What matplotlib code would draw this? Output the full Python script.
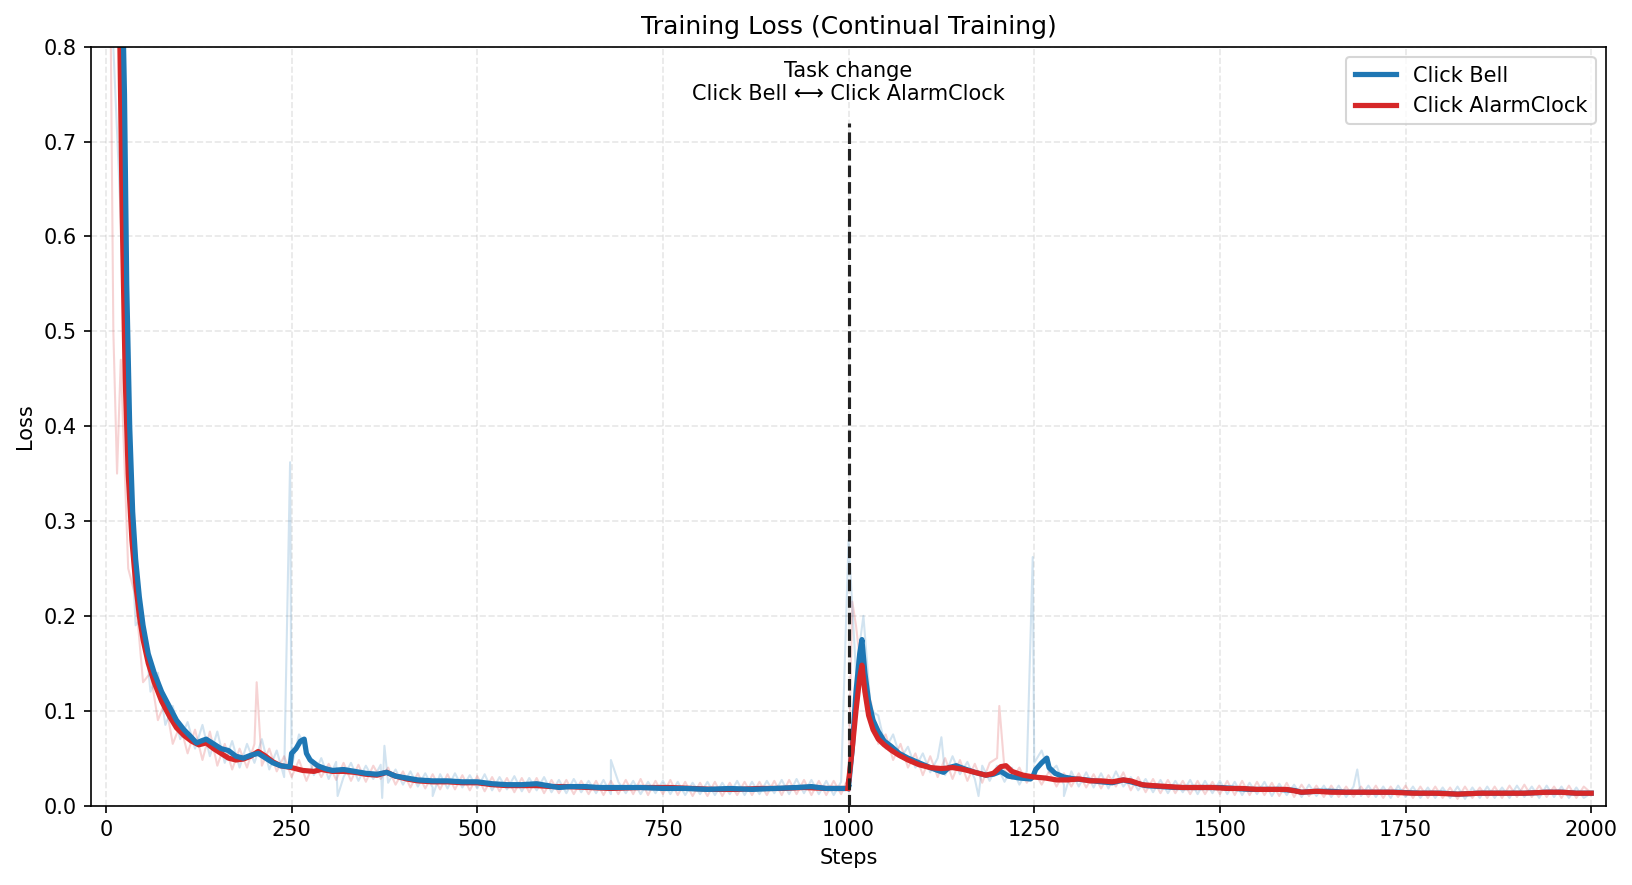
import numpy as np
import matplotlib
matplotlib.use("Agg")
import matplotlib.pyplot as plt

# ---------------- data ----------------
raw_step_interval = 10

bell_raw = [
    1.6, 0.80, 0.62, 0.36, 0.19, 0.2, 0.12, 0.14, 0.085, 0.105,
    0.07, 0.088, 0.06, 0.085, 0.052, 0.078, 0.045, 0.068, 0.04, 0.065,
    0.045, 0.07, 0.038, 0.058, 0.03, 0.041, 0.075, 0.06, 0.032, 0.05,
    0.028, 0.046, 0.03, 0.045, 0.026, 0.042, 0.028, 0.043, 0.024, 0.038,
    0.022, 0.036, 0.02, 0.034, 0.019, 0.033, 0.018, 0.034, 0.019, 0.032,
    0.018, 0.033, 0.016, 0.03, 0.017, 0.031, 0.015, 0.029, 0.016, 0.03,
    0.014, 0.027, 0.013, 0.028, 0.014, 0.026, 0.013, 0.027, 0.012, 0.025,
    0.013, 0.026, 0.012, 0.025, 0.013, 0.026, 0.012, 0.025, 0.011, 0.024,
    0.012, 0.025, 0.011, 0.024, 0.012, 0.026, 0.011, 0.025, 0.012, 0.026,
    0.013, 0.027, 0.012, 0.028, 0.013, 0.027, 0.012, 0.026, 0.011, 0.025,
    0.28, 0.14, 0.2, 0.1, 0.095, 0.06, 0.075, 0.05, 0.062, 0.04,
    0.055, 0.035, 0.05, 0.032, 0.052, 0.033, 0.046, 0.028, 0.042, 0.026,
    0.042, 0.025, 0.04, 0.022, 0.036, 0.045, 0.058, 0.035, 0.042, 0.022,
    0.036, 0.02, 0.035, 0.019, 0.034, 0.018, 0.036, 0.02, 0.03, 0.016,
    0.028, 0.014, 0.027, 0.013, 0.026, 0.014, 0.027, 0.012, 0.026, 0.013,
    0.026, 0.012, 0.025, 0.011, 0.024, 0.012, 0.025, 0.01, 0.023, 0.011,
    0.022, 0.009, 0.022, 0.01, 0.021, 0.009, 0.021, 0.009, 0.02, 0.01,
    0.021, 0.009, 0.02, 0.008, 0.021, 0.009, 0.02, 0.008, 0.019, 0.008,
    0.019, 0.008, 0.02, 0.007, 0.019, 0.008, 0.02, 0.008, 0.019, 0.008,
    0.021, 0.009, 0.02, 0.008, 0.021, 0.009, 0.02, 0.008, 0.019, 0.008,
    0.013,
]
bell_spike_steps = [248, 312, 372, 375, 440, 680, 1125, 1175, 1248, 1290, 1685]
bell_spike_vals = [0.362, 0.010, 0.008, 0.063, 0.010, 0.048, 0.072, 0.010, 0.262, 0.010, 0.038]

alarm_raw = [
    1.4, 0.5, 0.47, 0.25, 0.22, 0.13, 0.14, 0.09, 0.11, 0.065,
    0.085, 0.055, 0.08, 0.048, 0.078, 0.042, 0.065, 0.038, 0.06, 0.04,
    0.065, 0.042, 0.06, 0.036, 0.052, 0.03, 0.048, 0.026, 0.045, 0.03,
    0.044, 0.027, 0.045, 0.026, 0.043, 0.025, 0.042, 0.028, 0.04, 0.022,
    0.036, 0.019, 0.034, 0.018, 0.033, 0.017, 0.033, 0.017, 0.032, 0.016,
    0.031, 0.015, 0.03, 0.015, 0.029, 0.014, 0.029, 0.014, 0.029, 0.013,
    0.027, 0.013, 0.027, 0.012, 0.026, 0.012, 0.026, 0.011, 0.026, 0.012,
    0.027, 0.012, 0.028, 0.011, 0.026, 0.012, 0.027, 0.011, 0.025, 0.01,
    0.024, 0.01, 0.025, 0.01, 0.024, 0.011, 0.025, 0.011, 0.025, 0.011,
    0.026, 0.011, 0.027, 0.012, 0.027, 0.011, 0.026, 0.011, 0.026, 0.012,
    0.03, 0.19, 0.12, 0.11, 0.065, 0.075, 0.048, 0.065, 0.04, 0.055,
    0.032, 0.052, 0.03, 0.05, 0.028, 0.048, 0.026, 0.044, 0.024, 0.045,
    0.05, 0.038, 0.028, 0.04, 0.024, 0.036, 0.022, 0.036, 0.02, 0.034,
    0.02, 0.034, 0.019, 0.033, 0.018, 0.032, 0.02, 0.035, 0.016, 0.03,
    0.014, 0.028, 0.013, 0.027, 0.013, 0.026, 0.012, 0.026, 0.012, 0.025,
    0.012, 0.026, 0.011, 0.026, 0.011, 0.025, 0.011, 0.024, 0.01, 0.024,
    0.009, 0.022, 0.01, 0.021, 0.009, 0.021, 0.009, 0.02, 0.009, 0.02,
    0.009, 0.021, 0.008, 0.02, 0.009, 0.021, 0.008, 0.02, 0.008, 0.02,
    0.008, 0.019, 0.007, 0.02, 0.008, 0.019, 0.008, 0.02, 0.008, 0.021,
    0.009, 0.022, 0.009, 0.021, 0.009, 0.02, 0.008, 0.021, 0.008, 0.02,
    0.013,
]
alarm_spike_steps = [15, 203, 1005, 1203]
alarm_spike_vals = [0.35, 0.13, 0.215, 0.105]

bell_smooth_steps = [
    0, 10, 20, 25, 28, 32, 36, 40, 45, 50, 57, 65, 75, 85, 95, 105, 115, 122, 128, 135,
    145, 155, 165, 175, 185, 195, 205, 215, 225, 235, 245, 248, 250, 256, 262, 267, 270,
    275, 285, 295, 305, 320, 335, 350, 365, 378, 390, 405, 420, 440, 460, 480, 500, 520,
    540, 560, 580, 595, 610, 625, 645, 665, 690, 720, 750, 780, 810, 840, 870, 900, 930,
    950, 970, 990, 999,
    1000, 1005, 1010, 1015, 1018, 1022, 1027, 1033, 1040, 1048, 1058, 1068, 1080, 1095,
    1110, 1120, 1128, 1135, 1145, 1155, 1170, 1185, 1195, 1205, 1215, 1230, 1245, 1248,
    1252, 1260, 1267, 1270, 1278, 1290, 1305, 1320, 1340, 1355, 1370, 1385, 1400, 1420,
    1440, 1460, 1480, 1500, 1520, 1540, 1560, 1580, 1600, 1610, 1630, 1650, 1670, 1690,
    1710, 1740, 1770, 1800, 1820, 1850, 1880, 1910, 1940, 1960, 1980, 2000,
]
bell_smooth_vals = [
    2.2, 1.5, 0.95, 0.75, 0.55, 0.40, 0.31, 0.26, 0.22, 0.19, 0.16, 0.14, 0.12, 0.105,
    0.09, 0.08, 0.072, 0.066, 0.068, 0.07, 0.065, 0.06, 0.058, 0.052, 0.05, 0.053, 0.055,
    0.05, 0.045, 0.042, 0.041, 0.041, 0.055, 0.06, 0.068, 0.07, 0.055, 0.048, 0.042,
    0.039, 0.037, 0.038, 0.036, 0.034, 0.033, 0.035, 0.031, 0.029, 0.027, 0.026, 0.026,
    0.025, 0.025, 0.023, 0.022, 0.022, 0.023, 0.021, 0.019, 0.02, 0.02, 0.019, 0.019,
    0.019, 0.018, 0.018, 0.017, 0.018, 0.017, 0.018, 0.019, 0.02, 0.018, 0.018, 0.018,
    0.02, 0.06, 0.12, 0.16, 0.175, 0.14, 0.11, 0.09, 0.078, 0.068, 0.062, 0.055, 0.05,
    0.045, 0.04, 0.037, 0.035, 0.04, 0.042, 0.039, 0.035, 0.032, 0.033, 0.036, 0.031,
    0.029, 0.028, 0.03, 0.038, 0.045, 0.05, 0.04, 0.034, 0.03, 0.028, 0.027, 0.025,
    0.024, 0.027, 0.024, 0.021, 0.02, 0.019, 0.019, 0.019, 0.019, 0.018, 0.017, 0.017,
    0.017, 0.016, 0.014, 0.015, 0.015, 0.014, 0.014, 0.014, 0.014, 0.013, 0.013, 0.012,
    0.013, 0.013, 0.013, 0.014, 0.014, 0.013, 0.013,
]

alarm_smooth_steps = [
    0, 10, 18, 22, 26, 30, 35, 40, 45, 50, 57, 65, 75, 85, 95, 105, 115, 125, 135, 145,
    155, 165, 175, 185, 195, 205, 215, 225, 235, 250, 265, 280, 290, 305, 320, 335, 350,
    365, 378, 390, 405, 420, 440, 460, 480, 500, 520, 540, 560, 580, 600, 620, 650, 680,
    720, 760, 790, 820, 850, 880, 910, 940, 970, 999,
    1000, 1005, 1010, 1015, 1018, 1022, 1027, 1033, 1040, 1048, 1058, 1068, 1080, 1095,
    1110, 1125, 1140, 1155, 1170, 1185, 1195, 1205, 1212, 1220, 1235, 1250, 1265, 1280,
    1295, 1310, 1325, 1340, 1355, 1370, 1380, 1395, 1410, 1430, 1450, 1470, 1490, 1510,
    1530, 1550, 1570, 1590, 1610, 1630, 1650, 1670, 1700, 1730, 1760, 1790, 1820, 1850,
    1880, 1910, 1940, 1960, 1980, 2000,
]
alarm_smooth_vals = [
    2.0, 1.3, 0.85, 0.62, 0.45, 0.35, 0.28, 0.235, 0.2, 0.175, 0.15, 0.13, 0.11, 0.095,
    0.082, 0.074, 0.068, 0.064, 0.066, 0.06, 0.055, 0.05, 0.048, 0.049, 0.052, 0.057,
    0.052, 0.046, 0.042, 0.04, 0.037, 0.036, 0.038, 0.036, 0.036, 0.035, 0.033, 0.032,
    0.035, 0.031, 0.028, 0.026, 0.025, 0.025, 0.024, 0.024, 0.022, 0.021, 0.021, 0.021,
    0.02, 0.02, 0.019, 0.018, 0.019, 0.019, 0.018, 0.017, 0.017, 0.018, 0.018, 0.019,
    0.018, 0.018,
    0.025, 0.06, 0.1, 0.135, 0.148, 0.12, 0.095, 0.08, 0.07, 0.064, 0.058, 0.053, 0.048,
    0.043, 0.04, 0.039, 0.04, 0.038, 0.035, 0.032, 0.034, 0.041, 0.042, 0.036, 0.032,
    0.03, 0.029, 0.027, 0.027, 0.028, 0.026, 0.026, 0.025, 0.027, 0.026, 0.022, 0.021,
    0.02, 0.019, 0.019, 0.019, 0.018, 0.018, 0.017, 0.017, 0.017, 0.014, 0.015, 0.014,
    0.014, 0.014, 0.014, 0.013, 0.013, 0.012, 0.013, 0.013, 0.013, 0.014, 0.014, 0.013,
    0.013,
]

task_change_step = 1000
labels = ["Click Bell", "Click AlarmClock"]
blue = "#1f77b4"
red = "#d62728"


def merge(base, spike_steps, spike_vals):
    s = list(np.arange(len(base)) * raw_step_interval) + list(spike_steps)
    v = list(base) + list(spike_vals)
    order = np.argsort(s, kind="stable")
    return np.array(s)[order], np.array(v)[order]


bx, by = merge(bell_raw, bell_spike_steps, bell_spike_vals)
rx, ry = merge(alarm_raw, alarm_spike_steps, alarm_spike_vals)

# ---------------- plot ----------------
fig = plt.figure(figsize=(10.88, 5.9), dpi=150)
ax = fig.add_axes([0.0558, 0.0898, 0.9283, 0.8573])

ax.plot(rx, ry, color=red, alpha=0.2, lw=1.0)
ax.plot(bx, by, color=blue, alpha=0.2, lw=1.0)

bs = np.array(bell_smooth_steps); bv = np.array(bell_smooth_vals)
rs = np.array(alarm_smooth_steps); rv = np.array(alarm_smooth_vals)
m1b = bs < task_change_step; m1r = rs < task_change_step

ax.plot(rs[m1r], rv[m1r], color=red, lw=2.5)
ax.plot(bs[m1b], bv[m1b], color=blue, lw=2.5, label=labels[0])
ax.plot(bs[~m1b], bv[~m1b], color=blue, lw=2.5)
ax.plot(rs[~m1r], rv[~m1r], color=red, lw=2.5, label=labels[1])
# connect phases
ax.plot([bs[m1b][-1], bs[~m1b][0]], [bv[m1b][-1], bv[~m1b][0]], color=blue, lw=2.5)
ax.plot([rs[m1r][-1], rs[~m1r][0]], [rv[m1r][-1], rv[~m1r][0]], color=red, lw=2.5)

ax.vlines(task_change_step, 0, 0.72, colors="#222222", linestyles="--", lw=1.5, zorder=5)
ax.text(task_change_step, 0.74, "Task change\nClick Bell \u27f7 Click AlarmClock",
        ha="center", va="bottom", fontsize=10)

ax.set_xlim(-20, 2020)
ax.set_ylim(0, 0.8)
ax.set_title("Training Loss (Continual Training)", fontsize=12)
ax.set_xlabel("Steps")
ax.set_ylabel("Loss")
ax.grid(True, linestyle="--", alpha=0.3)
ax.legend(loc="upper right")

fig.savefig("out.png", dpi=150)
